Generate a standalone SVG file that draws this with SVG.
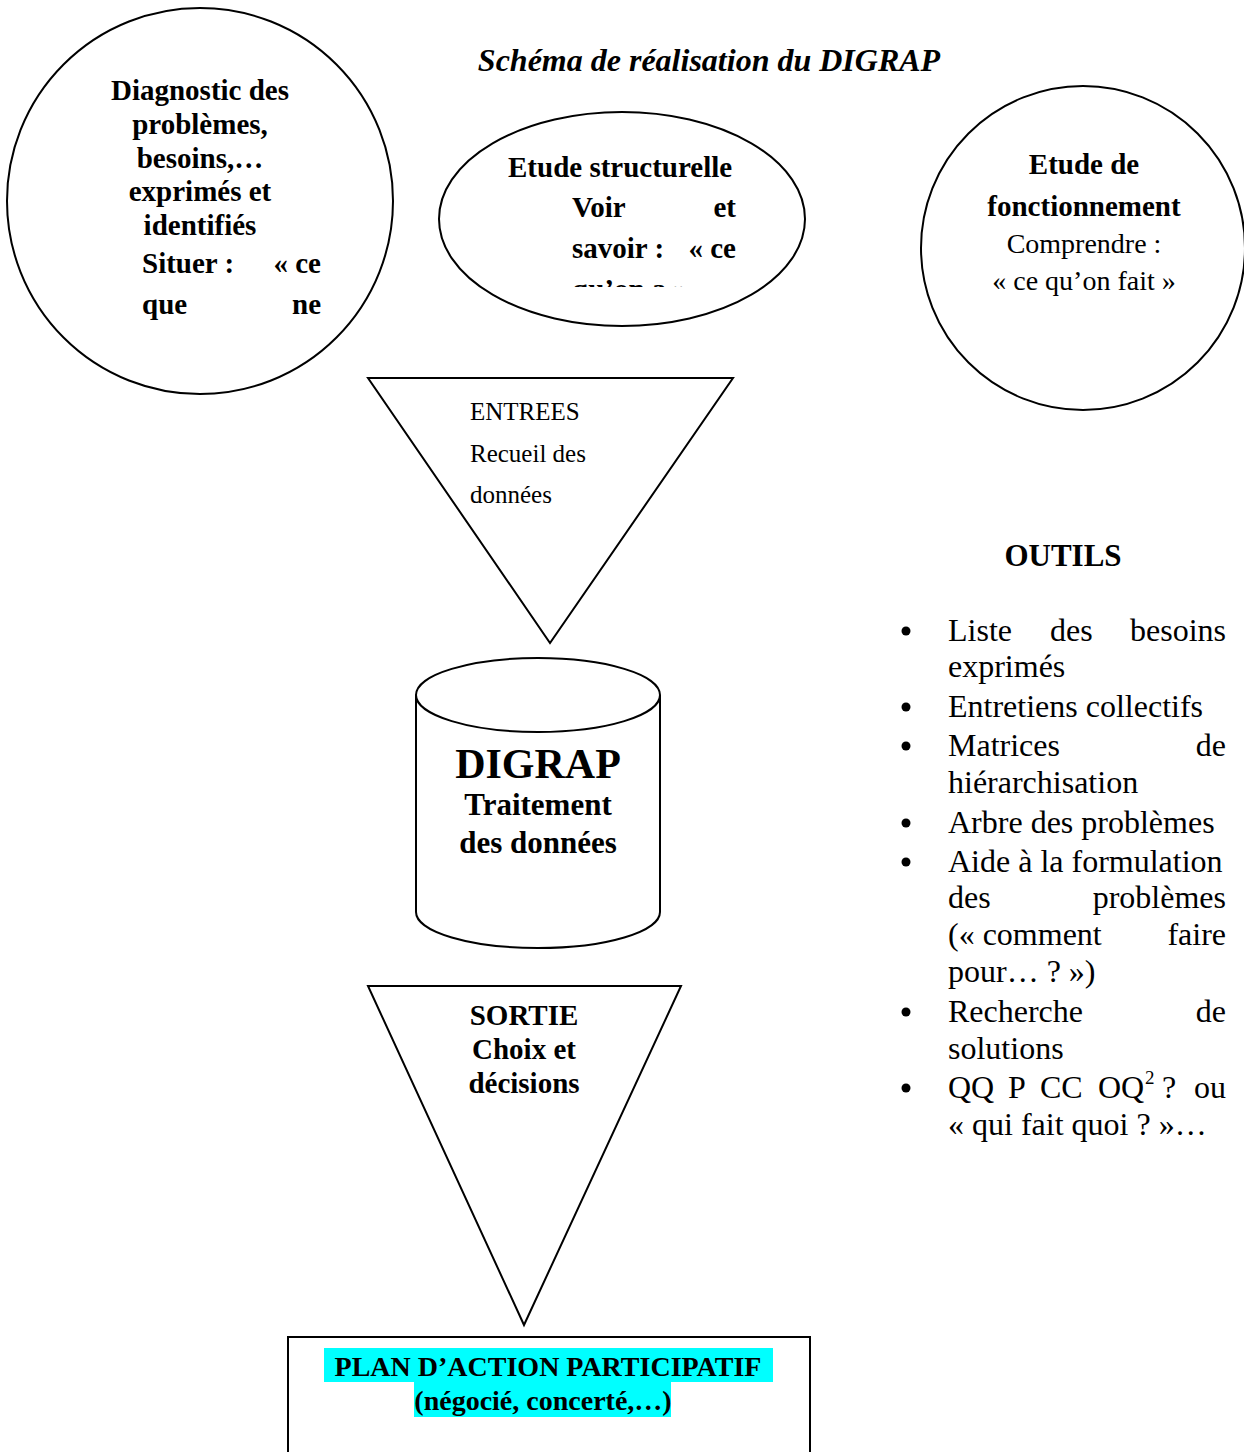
<svg xmlns="http://www.w3.org/2000/svg" width="1244" height="1452" viewBox="0 0 1244 1452">
<style>
.shape{fill:#fff;stroke:#000;stroke-width:2}
text{font-family:"Liberation Serif","Times New Roman",serif;fill:#000}
.b{font-weight:bold}
.c{text-anchor:middle}
.e{text-anchor:end}
.t29{font-size:29px}
.li{font-size:32px}
.dot{fill:#000}
</style>
<defs>
<clipPath id="ellclip"><rect x="430" y="100" width="400" height="187"/></clipPath>
</defs>
<rect width="1244" height="1452" fill="#fff"/>
<text x="709" y="71" class="c b" font-style="italic" font-size="32">Schéma de réalisation du DIGRAP</text>

<g id="diagnostic">
<circle class="shape" cx="200" cy="201" r="193"/>
<text class="b t29 c" x="200" y="100">Diagnostic des</text>
<text class="b t29 c" x="200" y="134">problèmes,</text>
<text class="b t29 c" x="200" y="168">besoins,…</text>
<text class="b t29 c" x="200" y="201">exprimés et</text>
<text class="b t29 c" x="200" y="235">identifiés</text>
<text class="b t29" x="142" y="273">Situer :</text>
<text class="b t29 e" x="321" y="273">« ce</text>
<text class="b t29" x="142" y="314">que</text>
<text class="b t29 e" x="321" y="314">ne</text>
</g>

<g id="structurelle">
<ellipse class="shape" cx="622" cy="219" rx="183" ry="107"/>
<g clip-path="url(#ellclip)">
<text class="b t29" x="508" y="177">Etude structurelle</text>
<text class="b t29" x="572" y="217">Voir</text>
<text class="b t29 e" x="736" y="217">et</text>
<text class="b t29" x="572" y="258">savoir :</text>
<text class="b t29 e" x="736" y="258">« ce</text>
<text class="b t29" x="572" y="299">qu’on a »</text>
</g>
</g>

<g id="fonctionnement">
<circle class="shape" cx="1083" cy="248" r="162"/>
<text class="b t29 c" x="1084" y="174">Etude de</text>
<text class="b t29 c" x="1084" y="216">fonctionnement</text>
<text class="c" font-size="28" x="1084" y="253">Comprendre :</text>
<text class="c" font-size="28" x="1084" y="290">« ce qu’on fait »</text>
</g>

<g id="entrees">
<polygon class="shape" points="368,378 733,378 550,643"/>
<text font-size="25" x="470" y="420">ENTREES</text>
<text font-size="25" x="470" y="462">Recueil des</text>
<text font-size="25" x="470" y="503">données</text>
</g>

<g id="digrap">
<path class="shape" d="M416,695 L416,912 A122,36 0 0 0 660,912 L660,695"/>
<ellipse class="shape" cx="538" cy="695" rx="122" ry="37"/>
<text class="b c" font-size="42" x="538" y="778">DIGRAP</text>
<text class="b c" font-size="31" x="538" y="815">Traitement</text>
<text class="b c" font-size="31" x="538" y="853">des données</text>
</g>

<g id="sortie">
<polygon class="shape" points="368,986 681,986 524,1325"/>
<text class="b t29 c" x="524" y="1025">SORTIE</text>
<text class="b t29 c" x="524" y="1059">Choix et</text>
<text class="b t29 c" x="524" y="1093">décisions</text>
</g>

<g id="outils">
<text class="b c" font-size="31" x="1063" y="566">OUTILS</text>
<circle class="dot" cx="906" cy="631" r="4.5"/>
<circle class="dot" cx="906" cy="707" r="4.5"/>
<circle class="dot" cx="906" cy="746" r="4.5"/>
<circle class="dot" cx="906" cy="823" r="4.5"/>
<circle class="dot" cx="906" cy="862" r="4.5"/>
<circle class="dot" cx="906" cy="1012" r="4.5"/>
<circle class="dot" cx="906" cy="1088" r="4.5"/>
<g class="li">
<text x="948" y="641">Liste</text>
<text x="1050" y="641">des</text>
<text x="1226" y="641" class="e">besoins</text>
<text x="948" y="677">exprimés</text>
<text x="948" y="717">Entretiens collectifs</text>
<text x="948" y="756">Matrices</text>
<text x="1226" y="756" class="e">de</text>
<text x="948" y="793">hiérarchisation</text>
<text x="948" y="833">Arbre des problèmes</text>
<text x="948" y="872">Aide à la formulation</text>
<text x="948" y="908">des</text>
<text x="1226" y="908" class="e">problèmes</text>
<text x="948" y="945">(« comment</text>
<text x="1226" y="945" class="e">faire</text>
<text x="948" y="982">pour… ? »)</text>
<text x="948" y="1022">Recherche</text>
<text x="1226" y="1022" class="e">de</text>
<text x="948" y="1059">solutions</text>
<text x="948" y="1098">QQ</text>
<text x="1008" y="1098">P</text>
<text x="1040" y="1098">CC</text>
<text x="1098" y="1098">OQ</text>
<text x="1145" y="1084" font-size="19">2</text>
<text x="1162" y="1098">?</text>
<text x="1226" y="1098" class="e">ou</text>
<text x="948" y="1135">« qui fait quoi ? »…</text>
</g>
</g>

<g id="plan">
<rect class="shape" x="288" y="1337" width="522" height="130"/>
<rect x="324" y="1348" width="449" height="34" fill="#00ffff"/>
<rect x="414" y="1382" width="257" height="35" fill="#00ffff"/>
<text class="b c" font-size="28" x="548" y="1376">PLAN D’ACTION PARTICIPATIF</text>
<text class="b c" font-size="28" x="543" y="1410">(négocié, concerté,…)</text>
</g>
<g id="connectors"/>
</svg>
